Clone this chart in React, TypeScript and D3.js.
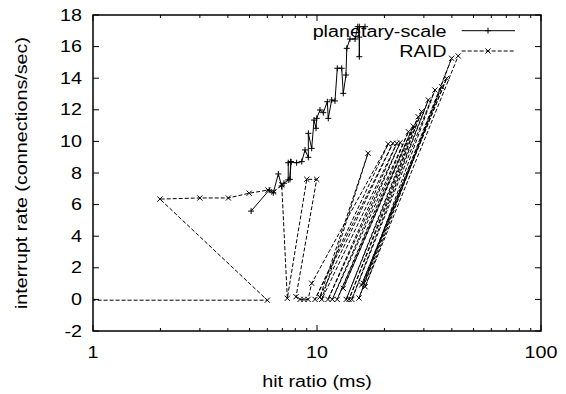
import React from 'react';
import * as d3 from 'd3';

// hit ratio (ms) / interrupt rate (connections/sec)
const planetaryX = [5.08, 6.12, 6.38, 6.72, 6.95, 7.12, 7.44, 7.44, 7.63, 7.57, 7.66, 8.11, 8.55, 8.84, 9.15, 9.15, 9.47, 9.7, 9.9, 9.97, 10.31, 10.67, 11.12, 11.23, 11.63, 12.03, 12.32, 12.89, 13.1, 13.47, 13.58, 14.03, 14.79, 15.2, 15.45, 15.45, 15.45, 16.38];
const planetaryY = [5.59, 6.92, 6.75, 7.94, 7.18, 7.35, 7.56, 8.65, 8.72, 7.6, 8.7, 8.65, 8.72, 9.46, 8.99, 10.51, 9.56, 11.35, 10.83, 11.46, 11.99, 11.82, 12.51, 11.46, 12.62, 12.56, 14.63, 14.63, 13.04, 14.2, 15.89, 16.48, 16.48, 17.26, 16.6, 15.36, 17.26, 17.26];

const raidX = [0.5, 6.0, 1.99, 3.0, 4.02, 4.98, 6.05, 6.4, 6.96, 7.37, 9.0, 9.97, 8.06, 8.4, 8.75, 9.12, 9.47, 20.8, 9.8, 21.8, 10.3, 16.9, 10.5, 22.7, 11.2, 23.5, 11.7, 25.6, 12.3, 26.9, 13.1, 28.3, 13.5, 29.3, 13.9, 31.4, 14.3, 33.6, 15.4, 36.0, 15.8, 37.9, 16.1, 39.9, 16.4, 42.7];
const raidY = [-0.05, -0.05, 6.35, 6.42, 6.42, 6.72, 6.92, 6.8, 7.24, 0.07, 7.6, 7.6, 0.17, 0, 0, 0, 1.02, 9.84, 0, 9.88, 0.15, 9.25, 0, 9.88, 0, 9.92, 0, 10.61, 0, 10.97, 0.7, 11.56, 0, 11.88, 0, 12.62, 0, 13.25, 0.09, 13.46, 0.91, 13.99, 1.02, 15.26, 0.8, 15.41];

const xTicks = [1, 10, 100];
const yTicks = [-2, 0, 2, 4, 6, 8, 10, 12, 14, 16, 18];
const seriesNames = ['planetary-scale', 'RAID'];

const W = 566;
const H = 394;
const left = 93, right = 541, top = 15, bottom = 331;
const font = 'Liberation Sans, Arial, Helvetica, sans-serif';
const fs = 15.8;
const stretch = 1.25; // the original type is wider than it is tall

const x = d3.scaleLog().domain([1, 100]).range([left, right]);
const y = d3.scaleLinear().domain([-2, 18]).range([bottom, top]);

const Txt = ({ x0, y0, anchor = 'start', rot = 0, children }: any) => (
  <text
    transform={`translate(${x0},${y0}) rotate(${rot}) scale(${stretch},1)`}
    textAnchor={anchor}
    fontFamily={font}
    fontSize={fs}
    fill="#000"
  >
    {children}
  </text>
);

const plus = (cx: number, cy: number, s = 3) => `M${cx - s},${cy}H${cx + s}M${cx},${cy - s}V${cy + s}`;
const cross = (cx: number, cy: number, s = 2.6) =>
  `M${cx - s},${cy - s}L${cx + s},${cy + s}M${cx - s},${cy + s}L${cx + s},${cy - s}`;

const App = () => {
  const line = d3.line<[number, number]>().x(d => x(d[0])).y(d => y(d[1]));
  const planetary = planetaryX.map((v, i) => [v, planetaryY[i]] as [number, number]);
  const raid = raidX.map((v, i) => [v, raidY[i]] as [number, number]);

  const minor: number[] = [];
  [1, 10].forEach(d => d3.range(2, 10).forEach(k => minor.push(d * k)));

  return (
    <svg width={W} height={H} style={{ position: 'absolute', left: 0, top: 0, background: '#fff' }}>
      <defs>
        <clipPath id="plot">
          <rect x={left} y={top} width={right - left} height={bottom - top} />
        </clipPath>
      </defs>

      {/* ticks */}
      <g stroke="#000" strokeWidth={1}>
        {xTicks.map(t => (
          <g key={'xt' + t}>
            <line x1={x(t)} x2={x(t)} y1={bottom} y2={bottom - 6} />
            <line x1={x(t)} x2={x(t)} y1={top} y2={top + 6} />
          </g>
        ))}
        {minor.map(t => (
          <g key={'xm' + t}>
            <line x1={x(t)} x2={x(t)} y1={bottom} y2={bottom - 3} />
            <line x1={x(t)} x2={x(t)} y1={top} y2={top + 3} />
          </g>
        ))}
        {yTicks.map(t => (
          <g key={'yt' + t}>
            <line x1={left} x2={left + 6} y1={y(t)} y2={y(t)} />
            <line x1={right} x2={right - 6} y1={y(t)} y2={y(t)} />
          </g>
        ))}
      </g>

      {xTicks.map(t => (
        <Txt key={'xl' + t} x0={x(t)} y0={358} anchor="middle">{t}</Txt>
      ))}
      {yTicks.map(t => (
        <Txt key={'yl' + t} x0={82} y0={y(t) + 5.6} anchor="end">{t}</Txt>
      ))}

      <Txt x0={(left + right) / 2} y0={387} anchor="middle">hit ratio (ms)</Txt>
      <Txt x0={27} y0={(top + bottom) / 2} anchor="middle" rot={-90}>interrupt rate (connections/sec)</Txt>

      <g clipPath="url(#plot)" fill="none" stroke="#000" strokeWidth={1}>
        <path d={line(raid) || ''} strokeDasharray="4,2" />
        {raid.map((d, i) => (
          <path key={'r' + i} d={cross(x(d[0]), y(d[1]))} />
        ))}
        <path d={line(planetary) || ''} />
        {planetary.map((d, i) => (
          <path key={'p' + i} d={plus(x(d[0]), y(d[1]))} />
        ))}
      </g>

      {/* legend */}
      <Txt x0={446.5} y0={36.5} anchor="end">{seriesNames[0]}</Txt>
      <Txt x0={446.5} y0={56.5} anchor="end">{seriesNames[1]}</Txt>
      <g fill="none" stroke="#000" strokeWidth={1}>
        <line x1={461.7} x2={515} y1={30.7} y2={30.7} />
        <path d={plus(488, 30.7)} />
        <line x1={461.7} x2={515} y1={51} y2={51} strokeDasharray="4,2" />
        <path d={cross(488, 51)} />
      </g>

      <rect x={left} y={top} width={right - left} height={bottom - top} fill="none" stroke="#000" strokeWidth={1.5} />
    </svg>
  );
};

export default App;
